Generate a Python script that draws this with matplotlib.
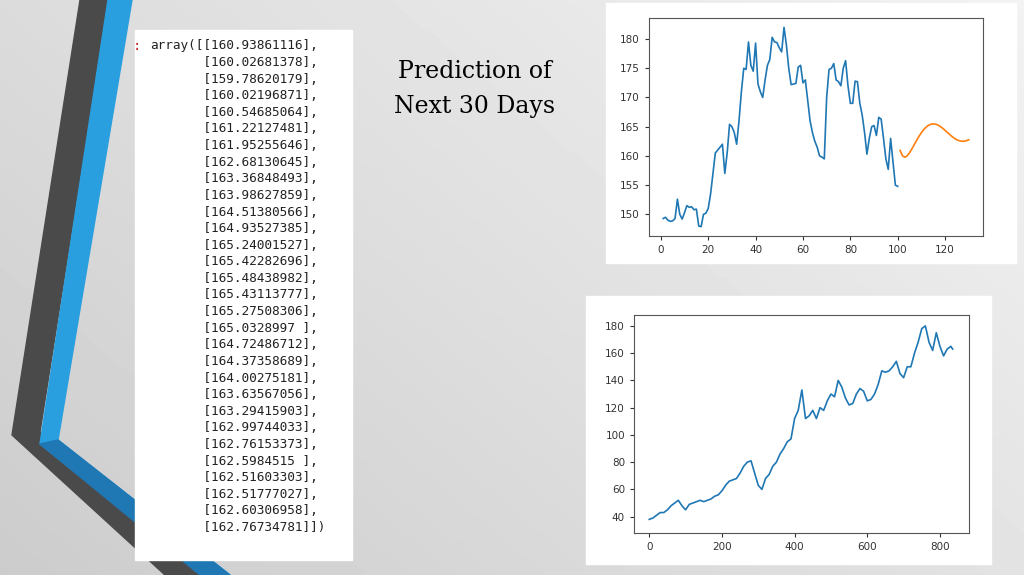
import matplotlib
matplotlib.use("Agg")
import matplotlib.pyplot as plt
import numpy as np
from matplotlib.patches import Polygon, Rectangle

# recent 100 days (top chart, blue)
recent = [149.3, 149.5, 149.0, 148.8, 148.9, 149.3, 152.6, 150.0, 149.2, 150.3,
          151.5, 151.2, 151.3, 150.8, 150.9, 148.0, 147.9, 150.0, 150.2, 151.0,
          153.5, 157.0, 160.5, 161.0, 161.5, 162.0, 157.0, 160.5, 165.4, 165.0,
          164.0, 162.0, 166.0, 171.0, 175.0, 174.8, 179.5, 175.5, 174.5, 179.3,
          172.3, 171.0, 170.0, 173.0, 175.5, 176.5, 180.3, 179.5, 179.4, 178.5,
          177.8, 182.0, 179.0, 175.0, 172.2, 172.3, 172.4, 175.2, 175.5, 172.5,
          173.0, 169.5, 166.0, 164.0, 162.5, 161.5, 160.0, 159.8, 159.5, 170.0,
          174.8, 175.0, 175.8, 173.0, 172.7, 172.0, 175.0, 176.3, 172.0, 169.0,
          169.0, 172.8, 172.7, 169.0, 167.0, 164.0, 160.3, 163.0, 165.0, 165.2,
          163.5, 166.6, 166.3, 163.0, 159.5, 157.7, 163.0, 159.0, 155.0, 154.8]

# next 30 days prediction (orange)
pred = [160.93861116, 160.02681378, 159.78620179, 160.02196871, 160.54685064,
        161.22127481, 161.95255646, 162.68130645, 163.36848493, 163.98627859,
        164.51380566, 164.93527385, 165.24001527, 165.42282696, 165.48438982,
        165.43113777, 165.27508306, 165.0328997, 164.72486712, 164.37358689,
        164.00275181, 163.63567056, 163.29415903, 162.99744033, 162.76153373,
        162.5984515, 162.51603303, 162.51777027, 162.60306958, 162.76734781]

# full history plus prediction (bottom chart), read every 10 days
full_x = list(range(0, 840, 10)) + [835]
full_y = [38, 39, 41, 43, 43, 45, 48, 50, 52, 48, 45, 49, 50, 51, 52, 51, 52, 53, 55, 56,
          59, 63, 66, 67, 68, 72, 77, 80, 81, 72, 63, 60, 68, 71, 77, 80, 86, 90, 95, 97,
          112, 118, 133, 112, 114, 118, 112, 120, 118, 125, 130, 128, 140, 135, 127, 122,
          123, 130, 134, 132, 125, 126, 130, 137, 147, 146, 147, 150, 154, 145, 142, 150,
          150, 160, 168, 178, 180, 168, 162, 175, 165, 158, 163, 165, 163]

W, H = 1024, 575
fig = plt.figure(figsize=(W / 100, H / 100), dpi=100)

# background gradient
bg = fig.add_axes([0, 0, 1, 1])
gx, gy = np.meshgrid(np.linspace(0, 1, 200), np.linspace(0, 1, 120))
bg.imshow(0.80 + 0.15 * (0.6 * gx + 0.4 * (1 - gy)), cmap="gray", vmin=0, vmax=1,
          extent=[0, W, H, 0], aspect="auto")
bg.set_xlim(0, W)
bg.set_ylim(H, 0)
bg.axis("off")

# left decoration bands
bg.add_patch(Polygon([(80, 0), (108, 0), (40, 432), (215, 575), (165, 575), (12, 435)],
                     color="#4a4a4a"))
bg.add_patch(Polygon([(108, 0), (132, 0), (58, 440), (230, 575), (205, 575), (40, 444)],
                     color="#2a9fe0"))
bg.add_patch(Polygon([(40, 444), (58, 440), (230, 575), (200, 575)], color="#1f78b4"))

# array text panel
bg.add_patch(Rectangle((135, 30), 217, 530, color="white"))
bg.text(133, 46, ":", color="#d03030", fontsize=10, family="DejaVu Sans Mono", va="center")
lines = []
for i, v in enumerate(pred):
    s = ("%.8f" % v).rstrip("0") if len(("%.8f" % v).rstrip("0")) < 12 else "%.8f" % v
    s = "[" + s.ljust(12) + "]"
    if i == 0:
        lines.append("array([" + s + ",")
    elif i == len(pred) - 1:
        lines.append("       " + s + "])")
    else:
        lines.append("       " + s + ",")
for i, ln in enumerate(lines):
    bg.text(150, 46 + i * 16.6, ln, fontsize=9.2, family="DejaVu Sans Mono",
            va="center", color="#222222")

# title
bg.text(475, 72, "Prediction of", fontsize=17, family="serif", ha="center", va="center")
bg.text(475, 106, "Next 30 Days", fontsize=17, family="serif", ha="center", va="center")

# chart panels
bg.add_patch(Rectangle((606, 3), 410, 260, color="white"))
bg.add_patch(Rectangle((586, 296), 405, 268, color="white"))

def px_axes(x0, y0, x1, y1):
    return fig.add_axes([x0 / W, 1 - y1 / H, (x1 - x0) / W, (y1 - y0) / H])

ax1 = px_axes(649, 18, 983, 236)
ax1.plot(np.arange(1, len(recent) + 1), recent, color="#1f77b4", lw=1.2)
ax1.plot(np.arange(101, 101 + len(pred)), pred, color="#ff7f0e", lw=1.2)
ax1.set_xticks([0, 20, 40, 60, 80, 100, 120])
ax1.set_yticks([150, 155, 160, 165, 170, 175, 180])
ax1.set_xlim(-5, 136)
ax1.set_ylim(146.3, 183.6)

ax2 = px_axes(634, 315, 969, 533)
ax2.plot(full_x, full_y, color="#1f77b4", lw=1.2)
ax2.set_xticks([0, 200, 400, 600, 800])
ax2.set_yticks(range(40, 181, 20))
ax2.set_xlim(-42, 880)
ax2.set_ylim(28, 188)

for ax in (ax1, ax2):
    ax.tick_params(labelsize=7.5, colors="#333333", length=3)
    for sp in ax.spines.values():
        sp.set_color("#555555")

fig.savefig("out.png", dpi=100)
